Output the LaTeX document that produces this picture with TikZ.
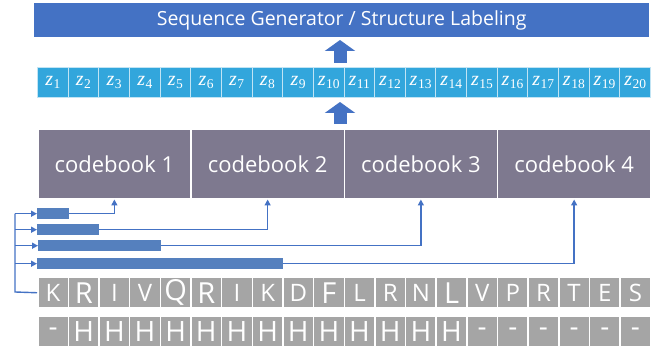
\documentclass[tikz,border=0pt]{standalone}
\usepackage{fontspec}
\setmainfont{Open Sans}
\newfontfamily\zfont{Liberation Serif}
\usetikzlibrary{arrows.meta,calc}
\definecolor{titleblue}{HTML}{4472C4}
\definecolor{zblue}{HTML}{32A6DC}
\definecolor{cbgray}{HTML}{7E798F}
\definecolor{barblue}{HTML}{5580BE}
\definecolor{seqgray}{HTML}{A5A5A5}
\definecolor{linkblue}{HTML}{4472C4}
\newcommand{\zlabel}[1]{{\zfont\fontsize{20}{20}\selectfont\itshape z}\kern0.5pt{\zfont\fontsize{13.5}{13.5}\selectfont\raisebox{-3.5pt}{#1}}}
\begin{document}
\begin{tikzpicture}[x=1pt,y=-1pt,
  titlebox/.style={fill=titleblue, text=white, minimum width=615pt, minimum height=34pt,
    inner sep=0pt, anchor=north west, font=\fontsize{19.5}{19.5}\selectfont},
  zcell/.style={fill=zblue, draw=white!70!zblue, line width=1pt, minimum width=30.65pt,
    minimum height=30pt, inner sep=0pt, anchor=north west, text=white},
  cbbox/.style={fill=cbgray, draw=white, line width=1.5pt, minimum width=153.25pt,
    minimum height=69pt, inner sep=0pt, anchor=north west, text=white,
    font=\fontsize{22}{22}\selectfont},
  bar/.style={fill=barblue, minimum height=11pt, inner sep=0pt, anchor=north west},
  seqcell/.style={fill=seqgray, draw=white, line width=1.5pt, minimum width=30.65pt,
    minimum height=30pt, inner sep=0pt, anchor=north west, text=white},
  link/.style={draw=linkblue, line width=1.4pt},
  tip/.style={-{Triangle[width=6pt,length=6pt]}},
  bigarrow/.style={draw=titleblue, line width=13pt, -{Triangle[width=30pt,length=11pt]}}
]
\useasboundingbox (0,0) rectangle (654,347);

% title
\node[titlebox] (title) at (34,3) {Sequence Generator / Structure Labeling};

% z row
\foreach \i in {1,...,20}
  \node[zcell] (z\i) at ({37+(\i-1)*30.65},67) {\zlabel{\i}};

% codebooks
\foreach \i in {1,...,4}
  \node[cbbox] (cb\i) at ({37+(\i-1)*153.25},129) {codebook \i};

% big arrows
\coordinate (a1s) at (340,63);
\coordinate (a1e) at (340,40);
\coordinate (a2s) at (340,124);
\coordinate (a2e) at (340,102);
\draw[bigarrow] (a1s) -- (a1e);
\draw[bigarrow] (a2s) -- (a2e);

% bars
\node[bar, minimum width=32pt]  (bar1) at (37,208) {};
\node[bar, minimum width=62pt]  (bar2) at (37,224) {};
\node[bar, minimum width=123pt] (bar3) at (38,240) {};
\node[bar, minimum width=246pt] (bar4) at (37,258) {};

% sequence row
\foreach \c/\s [count=\i] in {K/24,R/29,I/24,V/24,Q/29,R/29,I/24,K/24,D/24,F/29,L/24,R/24,N/24,L/29,V/24,P/24,R/24,T/24,E/24,S/24}
  \node[seqcell, font=\fontsize{\s}{\s}\selectfont] (L\i) at ({37+(\i-1)*30.65},277) {\c};

% structure row
\foreach \c [count=\i] in {-,H,H,H,H,H,H,H,H,H,H,H,H,H,-,-,-,-,-,-}
  \node[seqcell, font=\fontsize{28}{28}\selectfont] (S\i) at ({37+(\i-1)*30.65},316) {\c};

% spine and connectors
\coordinate (spine) at (15,292);
\draw[link] (bar1.west -| spine) -- (spine) -- (L1.west);
\foreach \i in {1,...,4}
  \draw[link,tip] (bar\i.west -| spine) -- (bar\i.west);
\foreach \i in {1,...,4}
  \draw[link,tip] (bar\i.east) -| (cb\i.south);
\end{tikzpicture}
\end{document}
